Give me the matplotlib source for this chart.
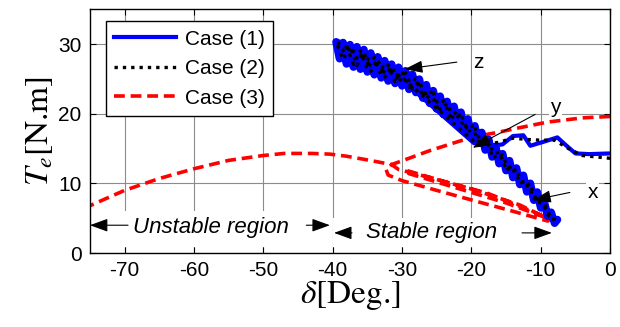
import matplotlib
matplotlib.use("Agg")
import matplotlib.pyplot as plt
from matplotlib.patches import Rectangle

plt.rcParams["font.family"] = ["Liberation Sans", "DejaVu Sans"]
plt.rcParams["mathtext.fontset"] = "stix"
plt.rcParams["axes.unicode_minus"] = False

# Case (1): torque-angle trajectory (blue), branch to the right then oscillation band
case1_delta = [0.0, -3.0, -5.0, -6.5, -7.6, -9.5, -11.5, -12.5, -14.0, -15.5, -17.0, -18.5, -19.5,
               -30.0, -39.5, -39.0, -38.5, -38.0, -37.5, -37.0, -36.5, -36.0, -35.5, -35.0,
               -34.5, -34.0, -33.5, -33.0, -32.5, -32.0, -31.5, -31.0, -30.5, -30.0, -29.5,
               -29.0, -28.5, -28.0, -27.5, -27.0, -26.5, -26.0, -25.5, -25.0, -24.5, -24.0,
               -23.5, -23.0, -22.5, -22.0, -21.5, -21.0, -20.5, -20.0, -19.5, -19.0, -18.5,
               -18.0, -17.5, -17.0, -16.5, -16.0, -15.5, -15.0, -14.5, -14.0, -13.5, -13.0,
               -12.5, -12.0, -11.5, -11.0, -10.5, -10.0, -9.5, -9.0, -8.5, -8.0, -7.6]
case1_te = [14.3, 14.2, 14.3, 15.6, 16.6, 16.0, 15.4, 16.9, 16.8, 15.6, 15.4, 15.8, 16.0,
            25.2, 30.3, 27.9, 30.2, 27.15, 29.9, 26.7, 29.6, 26.4, 29.2, 26.0,
            28.7, 25.6, 28.15, 25.15, 27.6, 24.7, 27.1, 24.35, 26.65, 24.0, 26.15,
            23.5, 25.65, 23.05, 24.95, 22.25, 24.15, 21.5, 23.3, 20.7, 22.5, 19.9,
            21.75, 19.2, 21.05, 18.55, 20.2, 17.6, 19.25, 16.65, 18.25, 15.75, 17.3,
            14.8, 16.3, 13.8, 15.3, 12.85, 14.25, 11.85, 13.25, 10.85, 12.2, 9.85,
            11.15, 8.8, 10.0, 7.6, 8.75, 6.5, 7.4, 5.3, 5.85, 4.3, 4.8]

# Case (2): torque-angle trajectory (black dotted)
case2_delta = [0.0, -2.0, -4.0, -6.0, -8.0, -10.0, -12.0, -14.0, -16.0, -18.0, -19.5,
               -30.0, -39.5, -38.5, -37.5, -36.5, -35.5, -34.5, -33.5, -32.5, -31.5, -30.5,
               -29.5, -28.5, -27.5, -26.5, -25.5, -24.5, -23.5, -22.5, -21.5, -20.5, -19.5,
               -18.5, -17.5, -16.5, -15.5, -14.5, -13.5, -12.5, -11.5, -10.5, -9.5, -8.5,
               -8.0, -9.0, -10.0, -11.0, -12.0, -13.0, -14.0, -15.0, -16.0, -17.0, -18.0,
               -19.0, -20.0, -21.0, -22.0, -23.0, -24.0, -25.0, -26.0, -27.0, -28.0, -29.0,
               -30.0, -31.0, -32.0, -33.0, -34.0, -35.0, -36.0, -37.0, -38.0, -39.0]
case2_te = [13.6, 13.8, 14.0, 15.0, 16.2, 16.2, 16.3, 16.5, 15.9, 15.6, 15.9,
            25.2, 30.3, 27.8, 29.7, 26.95, 28.8, 26.1, 27.8, 25.25, 26.8, 24.45,
            25.85, 23.55, 24.7, 22.15, 23.05, 20.55, 21.5, 19.1, 19.95, 17.4, 18.05,
            15.5, 16.05, 13.55, 14.05, 11.55, 11.98, 9.53, 9.8, 7.25, 7.25, 4.85,
            4.9, 5.45, 7.9, 7.8, 10.4, 10.05, 12.55, 12.05, 14.55, 14.05, 16.6,
            15.95, 18.5, 17.85, 20.45, 19.45, 21.85, 20.95, 23.45, 22.5, 25.1, 23.8,
            26.15, 24.6, 27.0, 25.45, 28.1, 26.35, 29.05, 27.1, 29.8, 28.3]

# Case (3): torque-angle trajectory (red dashed)
case3_delta = [0.0, -4.0, -9.0, -13.0, -16.3, -19.0, -21.6, -26.0, -29.0, -31.5,
               -32.3, -32.0, -30.0, -25.0, -18.8, -14.0, -9.0, -8.6, -12.0, -17.7, -24.0, -29.5,
               -29.0, -22.0, -15.0, -9.3, -13.0, -20.0, -27.0, -30.5, -31.5,
               -34.6, -38.0, -40.4, -43.0, -47.0, -50.0, -55.0, -60.0, -65.0, -70.0, -75.0]
case3_te = [19.6, 19.4, 18.8, 18.0, 17.3, 16.8, 16.1, 14.7, 13.6, 12.7,
            12.0, 11.2, 10.4, 9.0, 7.3, 6.0, 4.6, 4.9, 6.3, 8.6, 10.3, 11.9,
            11.4, 9.3, 7.2, 5.1, 6.9, 9.2, 11.1, 12.0, 12.7,
            13.3, 13.9, 14.2, 14.3, 14.3, 14.0, 13.3, 12.1, 10.7, 9.0, 6.8]

case_labels = ["Case (1)", "Case (2)", "Case (3)"]
xticks = [-70, -60, -50, -40, -30, -20, -10, 0]
yticks = [0, 10, 20, 30]

# the first 13 points of case 1 form the thin branch towards delta = 0
n_branch = 13

fig = plt.figure(figsize=(6.2, 3.27), dpi=100)
ax = fig.add_axes([0.145, 0.226, 0.839, 0.746])

ax.plot(case1_delta[:n_branch], case1_te[:n_branch], color="#0000ff", lw=3.0,
        solid_joinstyle="round", label=case_labels[0], zorder=3)
ax.plot(case1_delta[n_branch - 1:], case1_te[n_branch - 1:], color="#0000ff", lw=5.6,
        solid_joinstyle="round", solid_capstyle="round", zorder=3)
ax.plot(case2_delta, case2_te, color="black", lw=2.4, linestyle=(0, (1, 1.5)),
        label=case_labels[1], zorder=4)
ax.plot(case3_delta, case3_te, color="red", lw=2.6, linestyle=(0, (3, 1.6)),
        label=case_labels[2], zorder=2)

ax.set_xlim(-75, 0)
ax.set_ylim(0, 35)
ax.set_xticks(xticks)
ax.set_yticks(yticks)
ax.tick_params(direction="in", top=True, right=True, length=4, labelsize=15, pad=6)
ax.grid(True, color="#8c8c8c", lw=0.8)
ax.set_axisbelow(True)
for s in ax.spines.values():
    s.set_linewidth(1.0)

ax.set_xlabel(r"$\delta$[Deg.]", fontsize=24, family="STIXGeneral", labelpad=-1)
ax.set_ylabel(r"$T_e$[N.m]", fontsize=24, family="STIXGeneral", labelpad=2)

leg = ax.legend(loc="upper left", bbox_to_anchor=(0.03, 0.95), borderaxespad=0,
                fontsize=15, handlelength=3.0, handletextpad=0.4, labelspacing=0.5,
                borderpad=0.4, fancybox=False, framealpha=1)
leg.get_frame().set_edgecolor("black")
leg.get_frame().set_linewidth(1.0)

arrow = dict(arrowstyle="-|>,head_length=1.1,head_width=0.38", color="black", lw=0.8,
             shrinkA=0, shrinkB=0)
white = dict(facecolor="white", edgecolor="none", pad=1)

# point labels x, y, z
ax.annotate("", xy=(-29.6, 26.4), xytext=(-22.1, 27.4), arrowprops=arrow, zorder=6)
ax.text(-19.0, 27.3, "z", fontsize=15, ha="center", va="center", bbox=white, zorder=6)
ax.annotate("", xy=(-19.8, 15.1), xytext=(-10.8, 19.9), arrowprops=arrow, zorder=6)
ax.text(-7.9, 20.9, "y", fontsize=15, ha="center", va="center", bbox=white, zorder=6)
ax.annotate("", xy=(-11.1, 7.6), xytext=(-5.8, 8.7), arrowprops=arrow, zorder=6)
ax.text(-2.5, 8.7, "x", fontsize=15, ha="center", va="center", bbox=white, zorder=6)

# stability regions: white boxes behind the double arrows
ax.add_patch(Rectangle((-75, 0.9), 34.6, 5.1, facecolor="white", edgecolor="none", zorder=1))
ax.add_patch(Rectangle((-40.0, 0.9), 31.8, 4.2, facecolor="white", edgecolor="none", zorder=1))
reg_arrow = dict(arrowstyle="-|>,head_length=1.1,head_width=0.4", color="black", lw=0.8,
                 shrinkA=0, shrinkB=0)
ax.text(-57.5, 3.7, "Unstable region", fontsize=16, style="italic", ha="center",
        va="center", zorder=5)
ax.annotate("", xy=(-75, 4.0), xytext=(-69.5, 4.0), arrowprops=reg_arrow, zorder=6)
ax.annotate("", xy=(-40.4, 4.0), xytext=(-43.8, 4.0), arrowprops=reg_arrow, zorder=6)
ax.text(-25.8, 2.9, "Stable region", fontsize=16, style="italic", ha="center",
        va="center", zorder=5)
ax.annotate("", xy=(-39.8, 2.9), xytext=(-37.2, 2.9), arrowprops=reg_arrow, zorder=6)
ax.annotate("", xy=(-8.4, 2.9), xytext=(-12.7, 2.9), arrowprops=reg_arrow, zorder=6)

fig.savefig("out.png", dpi=100)
